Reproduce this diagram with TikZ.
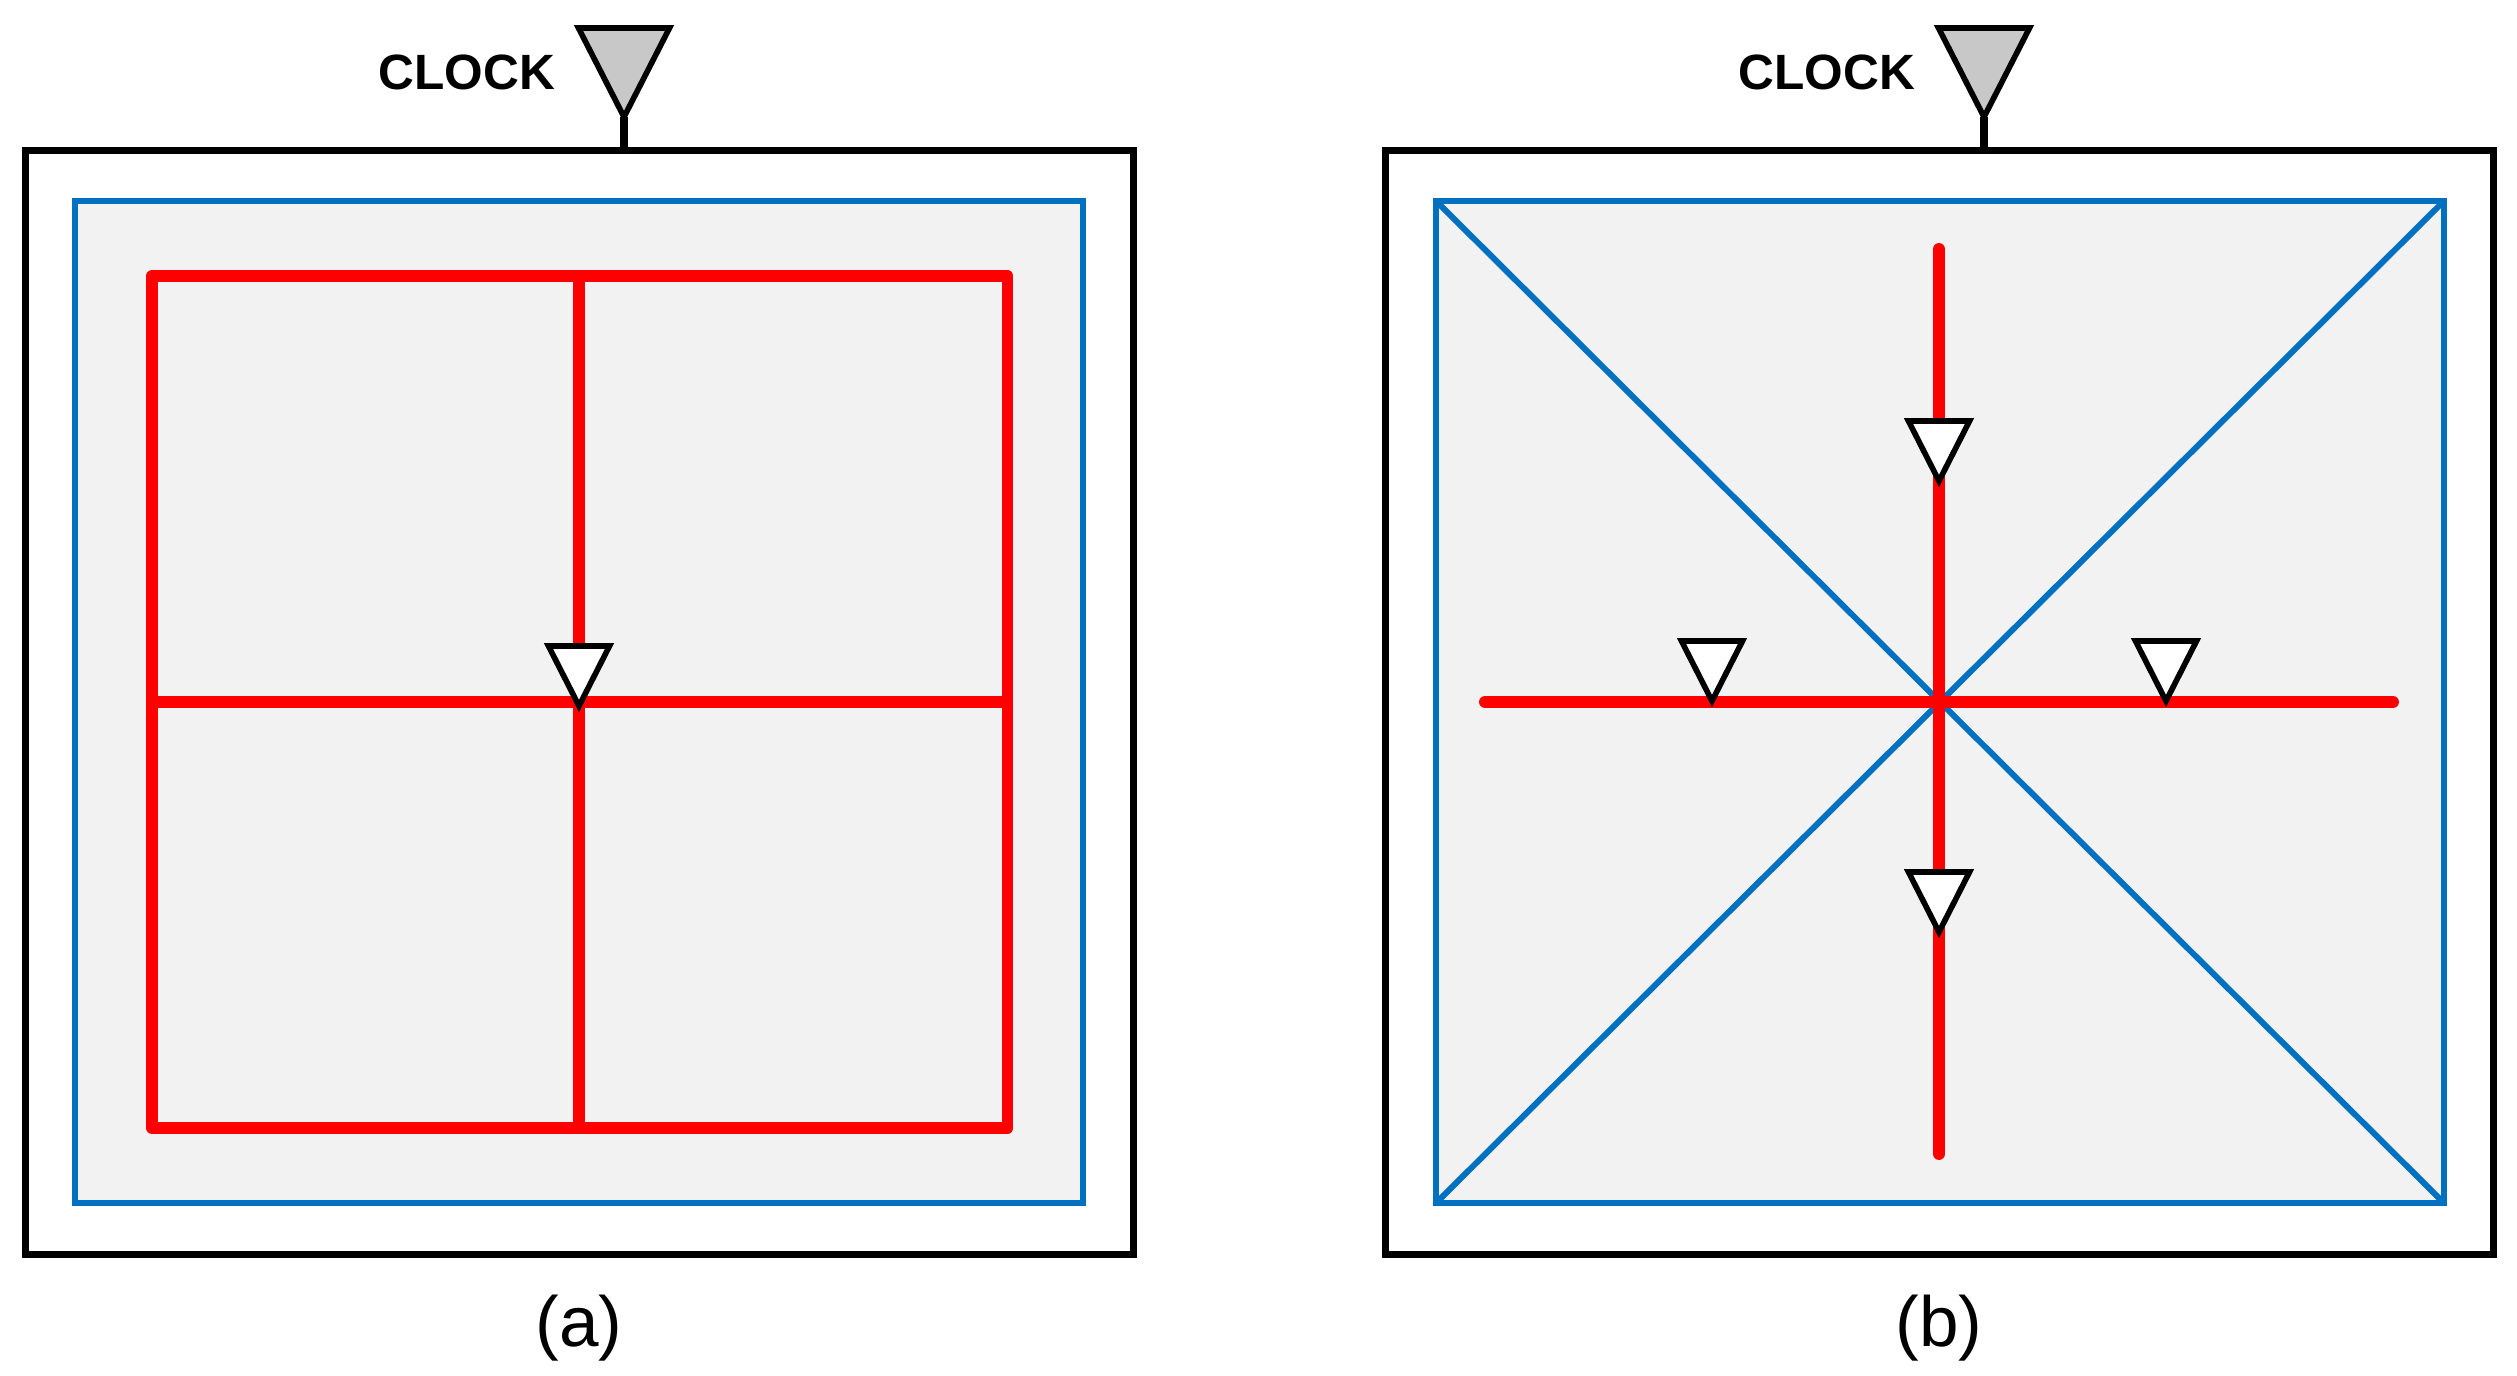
\documentclass[tikz,border=0pt]{standalone}
\usepackage{fontspec}
\setmainfont{Liberation Sans}
\usepackage{xcolor}
\usetikzlibrary{shapes.geometric,positioning,calc}

\definecolor{WireBlue}{HTML}{0070C0}
\definecolor{CoreGray}{HTML}{F2F2F2}
\definecolor{ClockGray}{HTML}{C8C8C8}

\begin{document}
\begin{tikzpicture}[
  x=0.01cm,y=-0.01cm,
  chip/.style={draw=black,line width=2pt,minimum width=11.08cm,minimum height=11.03cm,inner sep=0pt,outer sep=0pt},
  core/.style={draw=WireBlue,fill=CoreGray,line width=1.7pt,minimum width=10.08cm,minimum height=10.02cm,inner sep=0pt,outer sep=0pt},
  tip/.style={isosceles triangle,isosceles triangle stretches,shape border rotate=270,draw=black,line width=1.6pt,inner sep=0pt,outer sep=0pt,anchor=apex},
  buffer/.style={tip,fill=white,minimum width=0.61cm,minimum height=0.6cm},
  source/.style={tip,fill=ClockGray,minimum width=0.91cm,minimum height=0.89cm},
  tree/.style={draw=red,line width=3.4pt,line join=round},
  spine/.style={tree,line cap=round},
  diag/.style={draw=WireBlue,line width=1.7pt},
  stem/.style={draw=black,line width=2.3pt},
  clk/.style={font=\bfseries\fontsize{14.1}{14.1}\selectfont,inner sep=0pt,anchor=base},
  sub/.style={font=\fontsize{20.2}{20.2}\selectfont,inner sep=0pt,anchor=base}
  ]
  \useasboundingbox (0,0) rectangle (2517,1375);

  % panel (a)
  \node[chip] (chip_a) at (579.5,702.5) {};
  \node[core] (core_a) at (579,702)   {};
  \node[clk]  (clk_a)  at (467,89)    {CLOCK};
  \node[sub]  (sub_a)  at (579,1346)  {(a)};
  \node[source] (src_a) at (624,117) {};
  \coordinate (top_a) at (624,150);
  \draw[stem] (src_a.apex) -- (top_a);

  \coordinate (a_nw) at (152,276);
  \coordinate (a_ne) at (1007.5,276);
  \coordinate (a_se) at (1007.5,1128);
  \coordinate (a_sw) at (152,1128);
  \coordinate (a_n)  at (579,276);
  \coordinate (a_s)  at (579,1128);
  \coordinate (a_w)  at (152,702);
  \coordinate (a_e)  at (1007.5,702);
  \draw[tree] (a_nw) -- (a_ne) -- (a_se) -- (a_sw) -- cycle;
  \draw[tree] (a_n) -- (a_s);
  \draw[tree] (a_w) -- (a_e);
  \node[buffer] (buf_a) at (579,706) {};

  % panel (b)
  \node[chip] (chip_b) at (1939.5,702.5) {};
  \node[core] (core_b) at (1940,702)   {};
  \node[clk]  (clk_b)  at (1827,89)    {CLOCK};
  \node[sub]  (sub_b)  at (1939,1346)  {(b)};
  \node[source] (src_b) at (1984,117) {};
  \coordinate (top_b) at (1984,150);
  \draw[stem] (src_b.apex) -- (top_b);

  \draw[diag] (core_b.north west) -- (core_b.south east);
  \draw[diag] (core_b.north east) -- (core_b.south west);

  \coordinate (b_n) at (1939,249);
  \coordinate (b_s) at (1939,1154);
  \coordinate (b_w) at (1485,702);
  \coordinate (b_e) at (2393,702);
  \draw[spine] (b_n) -- (b_s);
  \draw[spine] (b_w) -- (b_e);
  \node[buffer] (buf_n) at (1939,481) {};
  \node[buffer] (buf_s) at (1939,932) {};
  \node[buffer] (buf_w) at (1712,701) {};
  \node[buffer] (buf_e) at (2166,701) {};
\end{tikzpicture}
\end{document}
